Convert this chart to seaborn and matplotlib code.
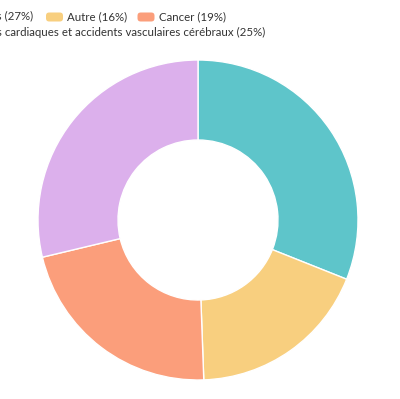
import matplotlib
matplotlib.use("Agg")
import matplotlib.pyplot as plt
import seaborn as sns
from matplotlib.patches import FancyBboxPatch

# data
causes = ["Maladies respiratoires", "Autre", "Cancer",
          "Maladies cardiaques et accidents vasculaires cérébraux"]
shares = [27, 16, 19, 25]
colors = ["#5ec5ca", "#f8cf7f", "#fb9e7b", "#dcb0ec"]
labels = [f"{c} ({v}%)" for c, v in zip(causes, shares)]

sns.set_theme(style="white")
plt.rcParams["font.family"] = ["Lato", "DejaVu Sans"]

W, H = 400, 399
fig = plt.figure(figsize=(W / 100, H / 100), dpi=100)

# donut
cx, cy, r = 198, 220, 160
ax = fig.add_axes([(cx - r) / W, (H - cy - r) / H, 2 * r / W, 2 * r / H])
ax.pie(shares, colors=sns.color_palette(colors), startangle=90, counterclock=False,
       radius=1, wedgeprops=dict(width=0.5, edgecolor="white", linewidth=1))
ax.set_xlim(-1, 1)
ax.set_ylim(-1, 1)
ax.set_aspect("equal")
ax.axis("off")

# legend (cut off on the left in the original)
def fx(x):
    return x / W

def fy(y):
    return 1 - y / H

def box(x, y, color):
    fig.patches.append(FancyBboxPatch((fx(x), fy(y + 4.5)), 17 / W, 9 / H,
                                      boxstyle="round,pad=0,rounding_size=0.008",
                                      transform=fig.transFigure, facecolor=color,
                                      edgecolor="none"))

fs = 8.3
txt_col = "#333333"
# row 1
fig.text(fx(33.5), fy(16.5), labels[0], ha="right", va="center", fontsize=fs, color=txt_col)
box(46, 17, colors[1])
fig.text(fx(67), fy(16.5), labels[1], ha="left", va="center", fontsize=fs, color=txt_col)
box(137.5, 17, colors[2])
fig.text(fx(159), fy(16.5), labels[2], ha="left", va="center", fontsize=fs, color=txt_col)
# row 2
fig.text(fx(265), fy(32.5), labels[3], ha="right", va="center", fontsize=fs, color=txt_col)

fig.savefig("out.png", dpi=100, facecolor="white")
